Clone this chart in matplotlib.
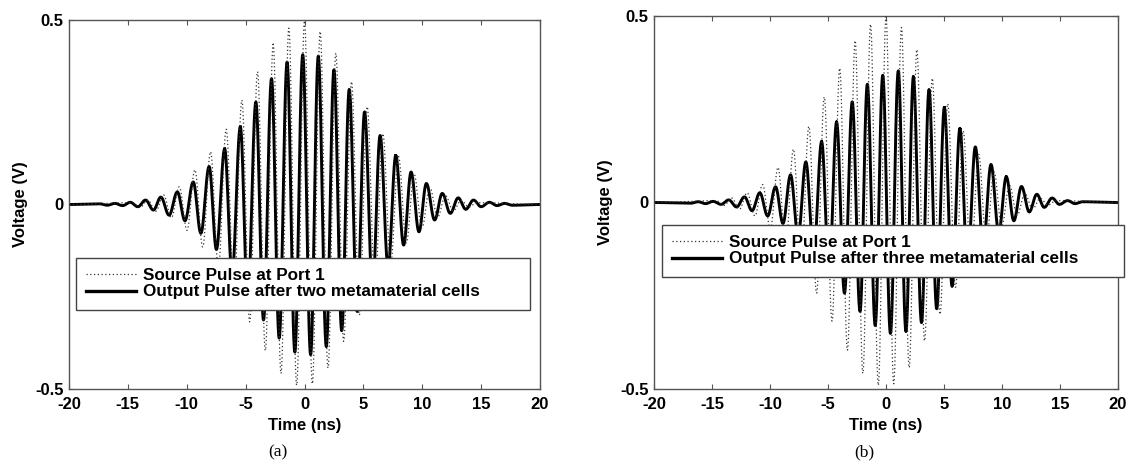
import numpy as np
import matplotlib
matplotlib.use('Agg')
import matplotlib.pyplot as plt

plt.rcParams['font.family'] = ['Liberation Sans', 'DejaVu Sans']
plt.rcParams['font.weight'] = 'bold'
plt.rcParams['axes.labelweight'] = 'bold'

# source pulse (same in both panels): extrema every half period, k = -22..22
src_half_period = 0.665
src_amp = [0.005, 0.008, 0.012, 0.018, 0.026, 0.036, 0.048, 0.070, 0.094, 0.115, 0.143,
           0.172, 0.204, 0.243, 0.283, 0.318, 0.360, 0.396, 0.434, 0.458, 0.478, 0.490,
           0.498,
           0.486, 0.469, 0.443, 0.410, 0.371, 0.333, 0.300, 0.265, 0.228, 0.192, 0.160,
           0.130, 0.104, 0.082, 0.063, 0.046, 0.034, 0.024, 0.017, 0.011, 0.007, 0.005]

# output after two cells, extrema
out_a_t = [-17.4, -16.75, -16.1, -15.45, -14.8, -14.15, -13.5, -12.83, -12.2, -11.5, -10.8,
           -10.15, -9.45, -8.8, -8.1, -7.48, -6.78, -6.15, -5.45, -4.82, -4.13, -3.48, -2.8,
           -2.15, -1.48, -0.82, -0.15, 0.52, 1.17, 1.85, 2.5, 3.16, 3.8, 4.47, 5.1, 5.78,
           6.42, 7.1, 7.75, 8.42, 9.05, 9.72, 10.35, 11.05, 11.7, 12.38, 13.05, 13.7, 14.35,
           15.0, 15.7, 16.35, 17.0, 17.65]
out_a_v = [0.002, -0.002, 0.003, -0.003, 0.006, -0.006, 0.012, -0.015, 0.020, -0.029, 0.034,
           -0.044, 0.061, -0.078, 0.103, -0.122, 0.151, -0.19, 0.211, -0.26, 0.278, -0.313,
           0.341, -0.362, 0.386, -0.40, 0.406, -0.407, 0.402, -0.385, 0.365, -0.342, 0.312,
           -0.29, 0.251, -0.23, 0.187, -0.17, 0.133, -0.11, 0.088, -0.074, 0.057, -0.042,
           0.030, -0.024, 0.018, -0.013, 0.012, -0.006, 0.006, -0.003, 0.003, -0.002]

# output after three cells, extrema
out_b_t = [-16.85, -16.2, -15.55, -14.9, -14.22, -13.56, -12.88, -12.2, -11.55, -10.88, -10.2,
           -9.52, -8.88, -8.23, -7.57, -6.91, -6.23, -5.55, -4.9, -4.26, -3.58, -2.91, -2.24,
           -1.61, -0.93, -0.28, 0.38, 1.06, 1.72, 2.36, 3.06, 3.71, 4.37, 5.03, 5.7, 6.37,
           7.03, 7.7, 8.38, 9.05, 9.72, 10.37, 11.02, 11.68, 12.35, 13.0, 13.64, 14.32,
           14.95, 15.65, 16.3, 16.95]
out_b_v = [-0.002, 0.002, -0.003, 0.003, -0.005, 0.007, -0.012, 0.015, -0.022, 0.026, -0.036,
           0.042, -0.056, 0.074, -0.09, 0.109, -0.135, 0.163, -0.19, 0.216, -0.243, 0.270,
           -0.292, 0.317, -0.330, 0.341, -0.351, 0.353, -0.346, 0.337, -0.322, 0.303,
           -0.285, 0.255, -0.225, 0.198, -0.17, 0.149, -0.12, 0.102, -0.08, 0.069, -0.049,
           0.043, -0.025, 0.022, -0.013, 0.012, -0.005, 0.005, -0.003, 0.002]

x_ticks = [-20, -15, -10, -5, 0, 5, 10, 15, 20]
y_ticks = [-0.5, 0, 0.5]
labels_a = ['Source Pulse at Port 1', 'Output Pulse after two metamaterial cells']
labels_b = ['Source Pulse at Port 1', 'Output Pulse after three metamaterial cells']


def wave(ext_t, ext_v, n=30):
    # smooth half-cycles joining the read extrema
    t = [-20.0] + list(ext_t) + [20.0]
    v = [0.0] + list(ext_v) + [0.0]
    tt, yy = [], []
    s = np.linspace(0, 1, n)
    for i in range(len(t) - 1):
        tt.append(t[i] + (t[i + 1] - t[i]) * s)
        yy.append(v[i] + (v[i + 1] - v[i]) * (1 - np.cos(np.pi * s)) / 2)
    return np.concatenate(tt), np.concatenate(yy)


k = np.arange(len(src_amp)) - len(src_amp) // 2
src_t = k * src_half_period
src_v = np.array(src_amp) * np.where(k % 2 == 0, 1, -1)

W, H = 1130, 473
fig = plt.figure(figsize=(W / 100, H / 100), dpi=100)
ax_a = fig.add_axes([69 / W, 1 - 389 / H, 471 / W, 369 / H])
ax_b = fig.add_axes([654 / W, 1 - 389 / H, 464 / W, 373 / H])

fs = 12
frame = '#555555'
for ax, ot, ov, labels, leg_box in [
        (ax_a, out_a_t, out_a_v, labels_a, (76, 258, 454)),
        (ax_b, out_b_t, out_b_v, labels_b, (662, 225, 462))]:
    x1, y1 = wave(ot, ov)
    x0, y0 = wave(src_t, src_v)
    h_out, = ax.plot(x1, y1, color='black', lw=2.1, zorder=2)
    h_src, = ax.plot(x0, y0, color='#333333', lw=0.9, ls=(0, (1, 2)), zorder=3)
    ax.set_xlim(-20, 20)
    ax.set_ylim(-0.5, 0.5)
    ax.set_xticks(x_ticks)
    ax.set_yticks(y_ticks)
    ax.set_yticklabels(['-0.5', '0', '0.5'])
    ax.set_xticklabels([str(v) for v in x_ticks])
    ax.tick_params(direction='in', length=3.5, width=0.8, color=frame,
                   top=True, right=True, labelsize=fs, pad=4)
    ax.tick_params(axis='x', pad=6)
    for sp in ax.spines.values():
        sp.set_color(frame)
        sp.set_linewidth(1.0)
    ax.set_xlabel('Time (ns)', fontsize=fs, labelpad=4)
    ax.set_ylabel('Voltage (V)', fontsize=fs, labelpad=5)
    lx, ly, lw = leg_box
    leg = fig.legend([h_src, h_out], labels, loc='upper left',
                     bbox_to_anchor=(lx / W, 1 - ly / H, lw / W, 0.001), mode='expand',
                     fontsize=12.3, frameon=True, fancybox=False, framealpha=1,
                     edgecolor='#444444', handlelength=2.9, handletextpad=0.4,
                     borderpad=0.6, labelspacing=0.1, borderaxespad=0)
    leg.get_frame().set_linewidth(1.0)
    leg.get_lines()[1].set_linewidth(2.4)

fig.text(278 / W, 1 - 452 / H, '(a)', family='Liberation Serif', weight='normal',
         fontsize=12.5, ha='center', va='center')
fig.text(864 / W, 1 - 452 / H, '(b)', family='Liberation Serif', weight='normal',
         fontsize=12.5, ha='center', va='center')

fig.savefig('out.png', dpi=100)
